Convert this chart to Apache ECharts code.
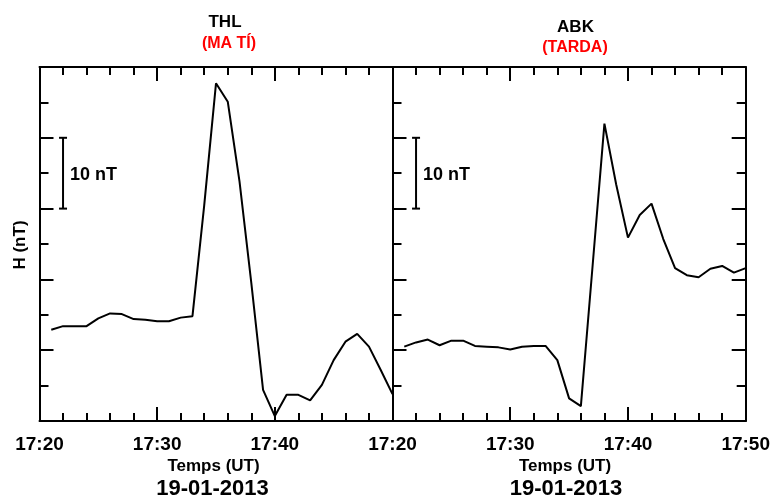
<!DOCTYPE html>
<html>
<head>
<meta charset="utf-8">
<script src="https://cdn.jsdelivr.net/npm/echarts@6/dist/echarts.min.js"></script>
<style>
  html, body { margin: 0; padding: 0; background: #fff; }
  #chart { width: 773px; height: 500px; }
</style>
</head>
<body>
<div id="chart"></div>
<script>
// Minutes after 17:20 UT, 19-01-2013
const thlMinutes = [1, 2, 3, 4, 5, 6, 7, 8, 9, 10, 11, 12, 13, 14, 15, 16, 17, 18, 19, 20, 21, 22, 23, 24, 25, 26, 27, 28, 29, 30];
// Relative H component at THL (nT)
const thlValues = [12.9, 13.4, 13.4, 13.4, 14.5, 15.2, 15.1, 14.4, 14.3, 14.1, 14.1, 14.6, 14.8, 30.5, 47.7, 45.1, 33.8, 19.5, 4.4, 0.7, 3.7, 3.7, 2.9, 5.1, 8.6, 11.2, 12.3, 10.5, 7.2, 3.8];

const abkMinutes = [1, 2, 3, 4, 5, 6, 7, 8, 9, 10, 11, 12, 13, 14, 15, 16, 17, 18, 19, 20, 21, 22, 23, 24, 25, 26, 27, 28, 29, 30];
// Relative H component at ABK (nT)
const abkValues = [10.5, 11.1, 11.5, 10.7, 11.35, 11.35, 10.6, 10.5, 10.4, 10.1, 10.5, 10.6, 10.6, 8.6, 3.2, 2.1, 22.0, 42.0, 33.4, 25.9, 29.1, 30.7, 25.7, 21.6, 20.6, 20.3, 21.5, 21.9, 20.95, 21.6];

// Scale bar: [minute, low nT, high nT]
const scaleBar = [[2, 30, 40]];
const scaleLabel = '10 nT';

const stationNames = ['THL', 'ABK'];
const stationTimes = ['(MA TÍ)', '(TARDA)'];
const axisTitle = 'Temps (UT)';
const dateLabel = '19-01-2013';
const yTitle = 'H (nT)';

const FONT = '"Liberation Sans", Arial, sans-serif';
const BLACK = '#000';

function timeLabel(v) {
  const m = 20 + v;
  return '17:' + (m < 10 ? '0' + m : m);
}

function xAxisCfg(gridIndex, position, showLabels, hideMax) {
  return {
    type: 'value', gridIndex: gridIndex, position: position,
    min: 0, max: 30, interval: 10,
    axisLine: { show: true, onZero: false, lineStyle: { color: BLACK, width: 2 } },
    axisTick: { show: true, inside: true, length: 14, lineStyle: { color: BLACK, width: 2 } },
    minorTick: { show: true, splitNumber: 5, length: 8, lineStyle: { color: BLACK, width: 2 } },
    splitLine: { show: false },
    axisLabel: {
      show: showLabels, showMaxLabel: !hideMax, margin: 14,
      color: BLACK, fontFamily: FONT, fontWeight: 'bold', fontSize: 19,
      formatter: timeLabel
    }
  };
}

function yAxisCfg(gridIndex, position) {
  return {
    type: 'value', gridIndex: gridIndex, position: position,
    min: 0, max: 50, interval: 10,
    axisLine: { show: true, onZero: false, lineStyle: { color: BLACK, width: 2 } },
    axisTick: { show: true, inside: true, length: 14, lineStyle: { color: BLACK, width: 2 } },
    minorTick: { show: true, splitNumber: 2, length: 9, lineStyle: { color: BLACK, width: 2 } },
    splitLine: { show: false },
    axisLabel: { show: false }
  };
}

function scaleBarSeries(xIdx, yIdx) {
  return {
    type: 'custom', xAxisIndex: xIdx, yAxisIndex: yIdx, silent: true, z: 5,
    data: scaleBar,
    renderItem: function (params, api) {
      const top = api.coord([api.value(0), api.value(2)]);
      const bot = api.coord([api.value(0), api.value(1)]);
      const ls = { stroke: BLACK, lineWidth: 2 };
      return {
        type: 'group',
        children: [
          { type: 'line', shape: { x1: top[0], y1: top[1], x2: bot[0], y2: bot[1] }, style: ls },
          { type: 'line', shape: { x1: top[0] - 4, y1: top[1], x2: top[0] + 4, y2: top[1] }, style: ls },
          { type: 'line', shape: { x1: bot[0] - 4, y1: bot[1], x2: bot[0] + 4, y2: bot[1] }, style: ls },
          { type: 'text', x: top[0] + 7, y: (top[1] + bot[1]) / 2 + 2,
            style: { text: scaleLabel, fill: BLACK, font: 'bold 18px ' + FONT, verticalAlign: 'middle', align: 'left' } }
        ]
      };
    }
  };
}

function dataSeries(xIdx, yIdx, xs, ys) {
  return {
    type: 'line', xAxisIndex: xIdx, yAxisIndex: yIdx,
    data: xs.map((x, i) => [x, ys[i]]),
    showSymbol: false, symbol: 'none',
    lineStyle: { color: BLACK, width: 2 },
    animation: false, z: 3
  };
}

function txt(x, y, text, font, color, rotation) {
  return {
    type: 'text', x: x, y: y, rotation: rotation || 0,
    style: { text: text, font: font, fill: color || BLACK, align: 'center', verticalAlign: 'middle' }
  };
}

const chart = echarts.init(document.getElementById('chart'), null, { renderer: 'canvas' });
chart.setOption({
  backgroundColor: '#fff',
  animation: false,
  grid: [
    { left: 39.5, top: 67, width: 353, height: 354 },
    { left: 392.5, top: 67, width: 355, height: 354 }
  ],
  xAxis: [
    xAxisCfg(0, 'bottom', true, true),
    xAxisCfg(0, 'top', false, false),
    xAxisCfg(1, 'bottom', true, false),
    xAxisCfg(1, 'top', false, false)
  ],
  yAxis: [
    yAxisCfg(0, 'left'),
    yAxisCfg(1, 'left'),
    yAxisCfg(1, 'right')
  ],
  series: [
    dataSeries(0, 0, thlMinutes, thlValues),
    dataSeries(2, 1, abkMinutes, abkValues),
    scaleBarSeries(0, 0),
    scaleBarSeries(2, 1)
  ],
  graphic: [
    txt(225, 22, stationNames[0], 'bold 17px ' + FONT),
    txt(229, 44, stationTimes[0], 'bold 16px ' + FONT, '#ff0000'),
    txt(575.5, 27, stationNames[1], 'bold 17px ' + FONT),
    txt(575, 48, stationTimes[1], 'bold 16px ' + FONT, '#ff0000'),
    txt(213.5, 466, axisTitle, 'bold 17px ' + FONT),
    txt(565, 466, axisTitle, 'bold 17px ' + FONT),
    txt(212.5, 489, dateLabel, 'bold 22px ' + FONT),
    txt(566, 489, dateLabel, 'bold 22px ' + FONT),
    txt(20.5, 245, yTitle, 'bold 17px ' + FONT, BLACK, Math.PI / 2)
  ]
});
</script>
</body>
</html>
